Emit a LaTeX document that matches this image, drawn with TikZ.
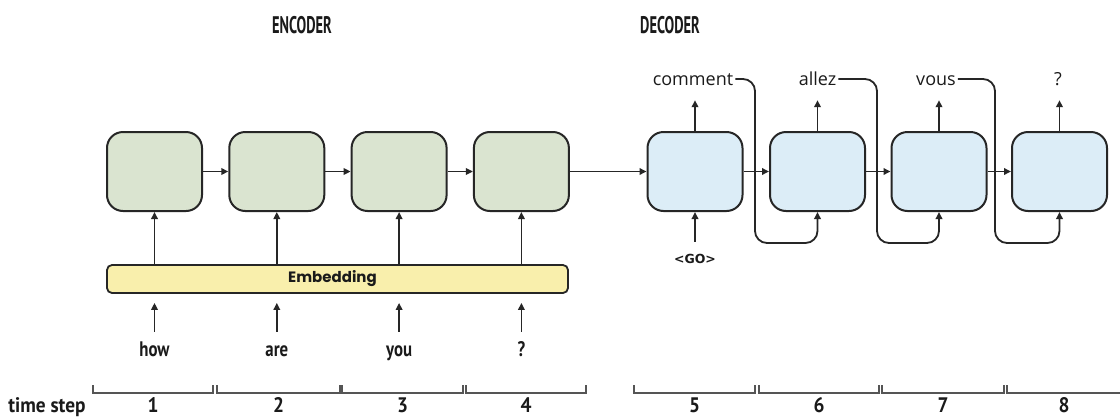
\documentclass[tikz,border=0pt]{standalone}
\usepackage{fontspec}
\setmainfont{Open Sans}
\newfontfamily\condfont[FakeStretch=0.8]{PT Sans}
\newfontfamily\narrowfont[FakeStretch=0.6]{PT Sans}
\newfontfamily\stepfont[FakeStretch=0.92]{PT Sans}
\newfontfamily\geofont{Poppins}
\newfontfamily\gofont{DejaVu Sans}
\usetikzlibrary{arrows.meta}

\definecolor{encfill}{HTML}{DAE4D0}
\definecolor{decfill}{HTML}{DCEDF7}
\definecolor{embfill}{HTML}{F9EFAC}
\definecolor{edge}{HTML}{262626}
\definecolor{tickgray}{HTML}{555555}
\definecolor{ink}{HTML}{1A1A1A}

\tikzset{
  cell/.style={draw=edge, line width=2pt, rounded corners=16pt,
    minimum width=95pt, minimum height=79pt, inner sep=0pt},
  enccell/.style={cell, fill=encfill},
  deccell/.style={cell, fill=decfill},
  arr/.style={-{Triangle[length=7pt,width=6.5pt]}, line width=1.8pt, draw=edge},
  loopback/.style={arr, rounded corners=12pt},
  headlabel/.style={font=\narrowfont\bfseries\fontsize{24}{26}\selectfont,
    text=ink, anchor=base, inner sep=0pt},
  inword/.style={font=\condfont\bfseries\fontsize{21}{24}\selectfont, anchor=base,
    inner xsep=0pt, inner ysep=9pt, text height=15pt, text depth=0pt, text=ink},
  outword/.style={font=\fontsize{18}{20}\selectfont, anchor=base,
    inner xsep=2pt, inner ysep=15pt, text depth=0pt, text=ink},
  stepnum/.style={font=\stepfont\bfseries\fontsize{21}{23}\selectfont,
    anchor=base, inner sep=0pt, text=ink},
  bracket/.style={draw=tickgray, line width=1.8pt},
}

\begin{document}
\begin{tikzpicture}[x=1pt, y=-1pt]
  \fill[white] (0,0) rectangle (1120,416);
  \useasboundingbox (0,0) rectangle (1120,416);

  % section titles
  \node[headlabel] (enctitle) at (302,33) {ENCODER};
  \node[headlabel] (dectitle) at (670,33) {DECODER};

  % encoder cells
  \node[enccell] (e1) at (154.5,171.5) {};
  \node[enccell] (e2) at (276.8,171.5) {};
  \node[enccell] (e3) at (399.1,171.5) {};
  \node[enccell] (e4) at (521.4,171.5) {};

  % decoder cells
  \node[deccell] (d1) at (695,171.5) {};
  \node[deccell] (d2) at (817.5,171.5) {};
  \node[deccell] (d3) at (939,171.5) {};
  \node[deccell] (d4) at (1059.5,171.5) {};

  % recurrent connections
  \draw[arr] (e1.east) -- (e2.west);
  \draw[arr] (e2.east) -- (e3.west);
  \draw[arr] (e3.east) -- (e4.west);
  \draw[arr] (e4.east) -- (d1.west);
  \draw[arr] (d1.east) -- (d2.west);
  \draw[arr] (d2.east) -- (d3.west);
  \draw[arr] (d3.east) -- (d4.west);

  % embedding layer
  \node[draw=edge, line width=1.8pt, fill=embfill, rounded corners=5pt,
        minimum width=461pt, minimum height=28pt, inner sep=0pt,
        font=\geofont\bfseries\fontsize{15}{17}\selectfont, text=ink]
        (emb) at (337.5,279) {Embedding\hspace*{10pt}};
  \foreach \c in {e1,e2,e3,e4}
    \draw[arr] (\c |- emb.north) -- (\c.south);

  % input words
  \node[inword] (w1) at (154.5,356) {how};
  \node[inword] (w2) at (276.8,356) {are};
  \node[inword] (w3) at (399.1,356) {you};
  \node[inword] (w4) at (521.4,356) {?};
  \foreach \w in {w1,w2,w3,w4}
    \draw[arr, shorten >=9pt] (\w.north) -- (\w |- emb.south);

  % start token
  \node[font=\gofont\bfseries\fontsize{12.5}{14}\selectfont, anchor=base,
        inner xsep=0pt, inner ysep=12pt, text height=9pt, text depth=0pt,
        text=ink] (go) at (695,263) {<GO>};
  \draw[arr] (go.north) -- (d1.south);

  % output words
  \node[outword] (o1) at (693,85) {comment};
  \node[outword] (o2) at (817.5,85) {allez};
  \node[outword] (o3) at (936,85) {vous};
  \node[outword] (o4) at (1058,85) {?};
  \draw[arr] (d1.north) -- (d1.north |- o1.south);
  \draw[arr] (d2.north) -- (d2.north |- o2.south);
  \draw[arr] (d3.north) -- (d3.north |- o3.south);
  \draw[arr] (d4.north) -- (d4.north |- o4.south);

  % outputs fed back as the next inputs
  \coordinate (fb1) at (755,243);
  \coordinate (fb2) at (877,243);
  \coordinate (fb3) at (995,243);
  \draw[loopback] ([yshift=6pt]o1.base east) -| (fb1) -| (d2.south);
  \draw[loopback] ([yshift=6pt]o2.base east) -| (fb2) -| (d3.south);
  \draw[loopback] ([yshift=6pt]o3.base east) -| (fb3) -| (d4.south);

  % time step axis
  \node[stepnum] (tslabel) at (47,412) {time step};
  \foreach \a/\b/\n in {93/213/1, 217/340/2, 342/463/3, 466/586/4,
                        634/755/5, 759/879/6, 882/1004/7} {
    \draw[bracket] (\a,385) -- (\a,393) -- (\b,393) -- (\b,385);
    \node[stepnum] (ts\n) at ({(\a+\b)/2},412) {\n};
  }
  \draw[bracket] (1007,385) -- (1007,393) -- (1121,393);
  \node[stepnum] (ts8) at (1064,412) {8};
\end{tikzpicture}
\end{document}
